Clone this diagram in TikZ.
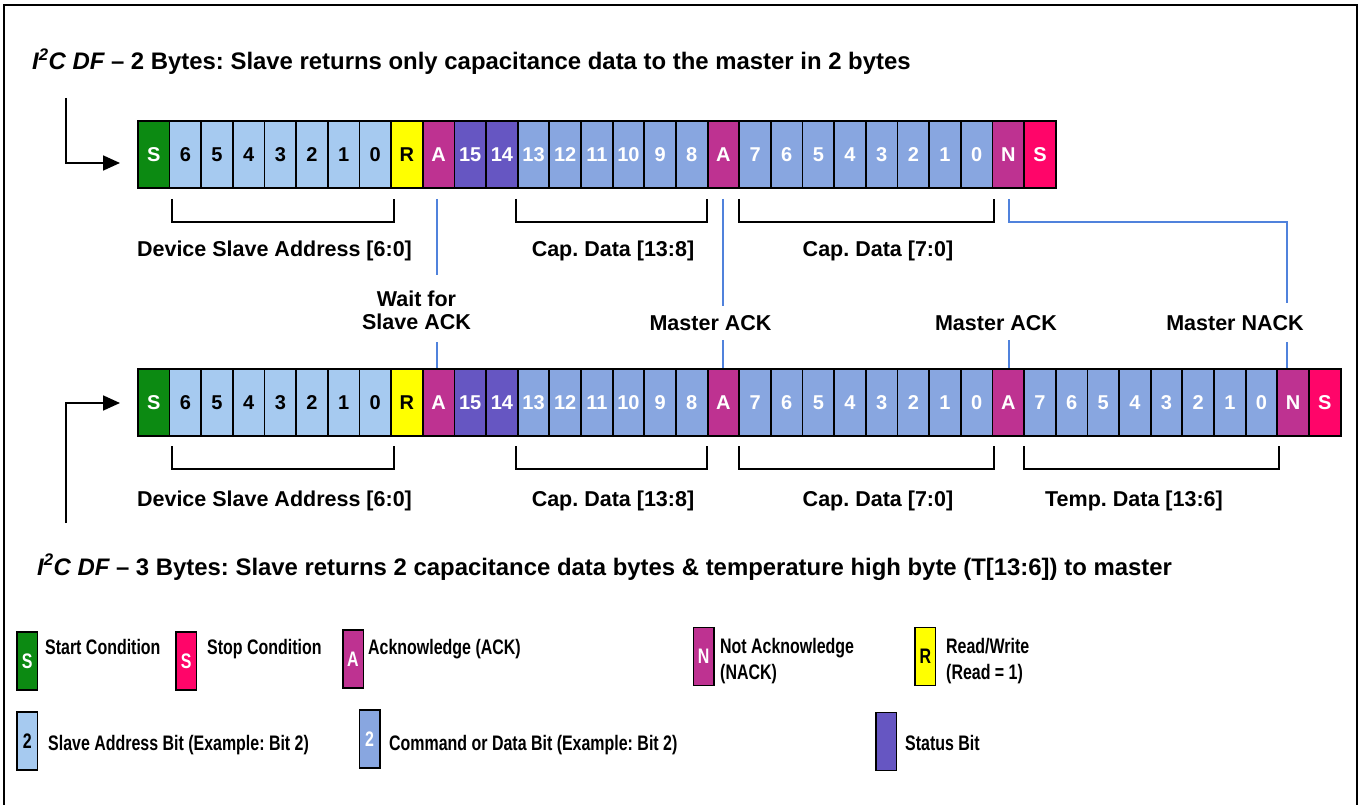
\documentclass[tikz,border=0pt]{standalone}
\usepackage{fontspec}
\setmainfont{Liberation Sans}
\newfontfamily\legfont{Liberation Sans}[FakeStretch=0.76]
\usetikzlibrary{arrows.meta,calc}
\frenchspacing
\definecolor{cgreen}{RGB}{12,138,18}
\definecolor{cpink}{RGB}{255,5,105}
\definecolor{cmag}{RGB}{190,50,145}
\definecolor{cyel}{RGB}{255,255,0}
\definecolor{clight}{RGB}{166,202,240}
\definecolor{cmed}{RGB}{136,166,224}
\definecolor{cpurp}{RGB}{102,86,194}
\definecolor{cline}{RGB}{80,130,220}
\tikzset{
  cell/.style={draw=black, line width=1.8pt, minimum width=31.65pt, minimum height=67pt,
    inner sep=0pt, anchor=north west, font=\fontsize{20}{24}\selectfont\bfseries, text=white},
  cstart/.style={fill=cgreen}, cstop/.style={fill=cpink}, cack/.style={fill=cmag},
  crw/.style={fill=cyel, text=black}, caddr/.style={fill=clight, text=black},
  cdata/.style={fill=cmed}, cstat/.style={fill=cpurp},
  brk/.style={line width=1.8pt, black},
  tick/.style={line width=2pt, cline},
  lbl/.style={font=\fontsize{21.5}{24}\selectfont\bfseries, inner sep=0pt, anchor=base},
  ttl/.style={font=\fontsize{23.9}{28}\selectfont\bfseries, inner sep=0pt, anchor=base west},
  legbox/.style={draw=black, line width=1.5pt, minimum width=20.5pt, minimum height=58pt,
    inner sep=0pt, font=\legfont\fontsize{21}{24}\selectfont\bfseries, text=white},
  legtxt/.style={font=\legfont\fontsize{21}{24}\selectfont\bfseries, inner sep=0pt, anchor=base west},
  feed/.style={line width=1.8pt, black, -{Triangle[length=17pt,width=15pt]}}
}
\begin{document}
\begin{tikzpicture}[x=1pt,y=-1pt]
\useasboundingbox (0,0) rectangle (1358,805);
\fill[white] (0,0) rectangle (1358,805);
\draw[line width=2pt] (4,5) rectangle (1356.5,815);

% titles
\node[ttl] (t1) at (32,70) {{\itshape I\textsuperscript{2}C DF} -- 2 Bytes: Slave returns only capacitance data to the master in 2 bytes};
\node[ttl] (t2) at (37,575) {{\itshape I\textsuperscript{2}C DF} -- 3 Bytes: Slave returns 2 capacitance data bytes \& temperature high byte (T[13:6]) to master};

% row 1
\foreach \t/\l [count=\i from 0] in {cstart/S, caddr/6, caddr/5, caddr/4, caddr/3, caddr/2, caddr/1, caddr/0, crw/R, cack/A, cstat/15, cstat/14, cdata/13, cdata/12, cdata/11, cdata/10, cdata/9, cdata/8, cack/A, cdata/7, cdata/6, cdata/5, cdata/4, cdata/3, cdata/2, cdata/1, cdata/0, cack/N, cstop/S}
  \node[cell,\t] (r1c\i) at ({137+\i*31.65},120) {\l};

% row 2
\foreach \t/\l [count=\i from 0] in {cstart/S, caddr/6, caddr/5, caddr/4, caddr/3, caddr/2, caddr/1, caddr/0, crw/R, cack/A, cstat/15, cstat/14, cdata/13, cdata/12, cdata/11, cdata/10, cdata/9, cdata/8, cack/A, cdata/7, cdata/6, cdata/5, cdata/4, cdata/3, cdata/2, cdata/1, cdata/0, cack/A, cdata/7, cdata/6, cdata/5, cdata/4, cdata/3, cdata/2, cdata/1, cdata/0, cack/N, cstop/S}
  \node[cell,\t] (r2c\i) at ({137+\i*31.65},368) {\l};

% feed arrows
\coordinate (f1s) at (66,98);
\coordinate (f1e) at (120,163);
\draw[feed] (f1s) |- (f1e);
\coordinate (f2s) at (66,523);
\coordinate (f2e) at (120,403);
\draw[feed] (f2s) |- (f2e);

% brackets row 1
\draw[brk] (172,199) -- (172,222) -- (394,222) -- (394,199);
\draw[brk] (516,199) -- (516,222) -- (707,222) -- (707,199);
\draw[brk] (739,199) -- (739,222) -- (994,222) -- (994,199);
% brackets row 2
\draw[brk] (172,446) -- (172,469) -- (394,469) -- (394,446);
\draw[brk] (516,446) -- (516,469) -- (707,469) -- (707,446);
\draw[brk] (739,446) -- (739,469) -- (994,469) -- (994,446);
\draw[brk] (1024,446) -- (1024,469) -- (1279,469) -- (1279,446);

% bracket labels
\node[lbl] (b1) at (274.5,257) {Device Slave Address [6:0]};
\node[lbl] (b2) at (613,257) {Cap. Data [13:8]};
\node[lbl] (b3) at (878,257) {Cap. Data [7:0]};
\node[lbl] (b4) at (274.5,506) {Device Slave Address [6:0]};
\node[lbl] (b5) at (613,506) {Cap. Data [13:8]};
\node[lbl] (b6) at (878,506) {Cap. Data [7:0]};
\node[lbl] (b7) at (1134,506) {Temp. Data [13:6]};

% ack labels
\node[lbl] (w1) at (416.5,306) {Wait for};
\node[lbl] (w2) at (416.5,329) {Slave ACK};
\node[lbl] (m1) at (710.5,330) {Master ACK};
\node[lbl] (m2) at (996,330) {Master ACK};
\node[lbl] (m3) at (1235,330) {Master NACK};

% blue ticks
\draw[tick] (437,199) -- (437,275);
\draw[tick] (437,342) -- (437,368);
\draw[tick] (723,199) -- (723,306);
\draw[tick] (723,340) -- (723,368);
\draw[tick] (1009,199) -- (1009,222) -- (1287,222) -- (1287,303);
\draw[tick] (1287,342) -- (1287,368);
\draw[tick] (1009,340) -- (1009,368);

% legend
\node[legbox, fill=cgreen] (lS) at (27.3,661) {S};
\node[legtxt] (lSt) at (45,654) {Start Condition};
\node[legbox, fill=cpink] (lP) at (186.2,661) {S};
\node[legtxt] (lPt) at (207,654) {Stop Condition};
\node[legbox, fill=cmag] (lA) at (353,659) {A};
\node[legtxt] (lAt) at (368,654) {Acknowledge (ACK)};
\node[legbox, fill=cmag] (lN) at (703.6,656.5) {N};
\node[legtxt] (lNt1) at (720,653) {Not Acknowledge};
\node[legtxt] (lNt2) at (720,679) {(NACK)};
\node[legbox, fill=cyel, text=black] (lR) at (925.3,656.5) {R};
\node[legtxt] (lRt1) at (946,653) {Read/Write};
\node[legtxt] (lRt2) at (946,679) {(Read = 1)};
\node[legbox, fill=clight, text=black] (lL) at (27.3,741) {2};
\node[legtxt] (lLt) at (48,750) {Slave Address Bit (Example: Bit 2)};
\node[legbox, fill=cmed] (lM) at (369.6,739) {2};
\node[legtxt] (lMt) at (389,750) {Command or Data Bit (Example: Bit 2)};
\node[legbox, fill=cpurp] (lU) at (886.3,741.5) {};
\node[legtxt] (lUt) at (905,750) {Status Bit};
\end{tikzpicture}
\end{document}
